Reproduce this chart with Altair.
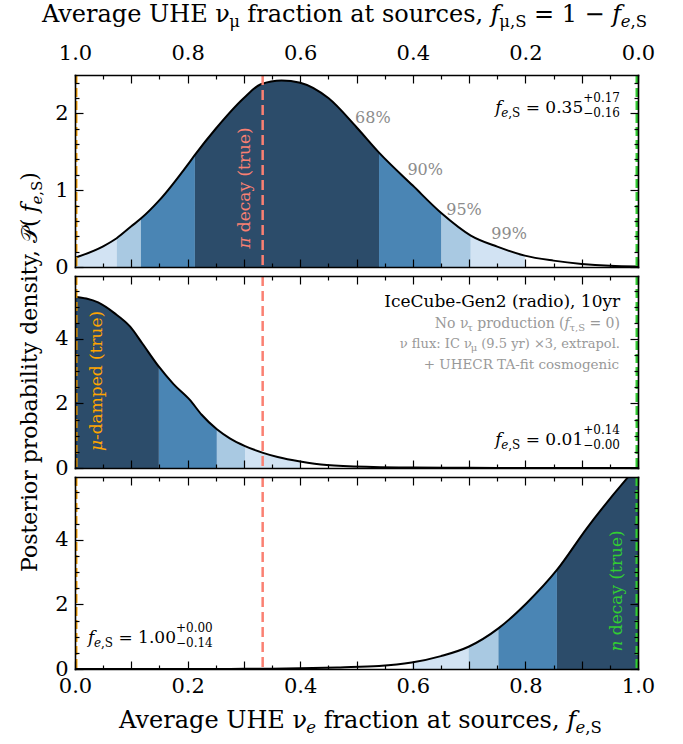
import altair as alt
import pandas as pd

FONT = "DejaVu Serif"
W, H = 563, 192
GAP = 9

# ---------------- data ----------------
# Top panel (true: pion decay)
x_top = [0.0, 0.05, 0.074, 0.1, 0.117, 0.15, 0.2, 0.213, 0.25, 0.3, 0.33, 0.367, 0.4, 0.45,
         0.5, 0.54, 0.6, 0.651, 0.703, 0.75, 0.799, 0.85, 0.9, 0.95, 1.0]
p_top = [0.12, 0.27, 0.375, 0.53, 0.63, 0.87, 1.33, 1.46, 1.80, 2.20, 2.38, 2.43, 2.40, 2.20,
         1.82, 1.49, 1.06, 0.70, 0.41, 0.265, 0.148, 0.083, 0.04, 0.015, 0.005]
edges_top = [0.0, 0.074, 0.117, 0.213, 0.54, 0.651, 0.703, 0.799]
bands_top = ["99%", "95%", "90%", "68%", "90%", "95%", "99%"]

# Middle panel (true: muon-damped)
x_mid = [0.0, 0.02, 0.041, 0.07, 0.098, 0.12, 0.149, 0.175, 0.204, 0.225, 0.252, 0.275, 0.302,
         0.334, 0.36, 0.40, 0.447, 0.53, 0.6, 0.7, 0.8, 0.9, 1.0]
p_mid = [5.31, 5.25, 5.13, 4.80, 4.38, 3.85, 3.14, 2.60, 2.11, 1.65, 1.20, 0.92, 0.68,
         0.47, 0.34, 0.20, 0.09, 0.03, 0.012, 0.004, 0.001, 0.0, 0.0]
edges_mid = [0.0, 0.149, 0.252, 0.302, 0.40]
bands_mid = ["68%", "90%", "95%", "99%"]

# Bottom panel (true: neutron decay)
x_bot = [0.0, 0.1, 0.2, 0.25, 0.3, 0.35, 0.4, 0.471, 0.54, 0.598, 0.65, 0.699, 0.752, 0.802,
         0.856, 0.909, 0.983, 1.0]
p_bot = [0.0, 0.0, 0.0, 0.002, 0.005, 0.01, 0.02, 0.05, 0.09, 0.20, 0.40, 0.69, 1.26, 2.04,
         3.07, 4.36, 5.96, 6.3]
edges_bot = [0.598, 0.699, 0.752, 0.856, 1.0]
bands_bot = ["99%", "95%", "90%", "68%"]

band_names = ["68%", "90%", "95%", "99%"]
band_colors = ["#2c4c6a", "#4a85b4", "#a9c9e2", "#d2e3f3"]

x_major = [round(0.1 * i, 2) for i in range(11)]
x_minor = [round(0.05 + 0.1 * i, 2) for i in range(10)]
x_labels = [0.0, 0.2, 0.4, 0.6, 0.8, 1.0]

y1_max, y1_major, y1_minor, y1_labels = 2.5, [0, 1, 2], [0.2, 0.4, 0.6, 0.8, 1.2, 1.4, 1.6, 1.8, 2.2, 2.4], [0, 1, 2]
y2_max, y2_major, y2_minor, y2_labels = 5.95, [0, 2, 4], [0.5, 1, 1.5, 2.5, 3, 3.5, 4.5, 5, 5.5], [0, 2, 4]

truths = [0.0, 1 / 3, 1.0]
truth_colors = ["#ffa500", "#fa8072", "#32cd32"]

XS = alt.Scale(domain=[0, 1], nice=False, zero=False, padding=0)

# ---------------- text width helper (DejaVu Serif metrics, em units) ----------------
WID = {' ': .318, '!': .4, '(': .39, ')': .39, '+': .838, ',': .318, '-': .338, '.': .318, '/': .337,
       ':': .337, '=': .838, '%': .95, '−': .838, '×': .838, 'ν': .56, 'μ': .64, 'τ': .55, 'π': .64,
       '𝒫': .8}
for c in "0123456789":
    WID[c] = .636
WID.update(dict(zip("ABCDEFGHIJKLMNOPQRSTUVWXYZ",
                    [.722, .735, .72, .802, .732, .691, .8, .872, .425, .421, .761, .687, 1.024,
                     .838, .82, .701, .82, .764, .685, .71, .815, .722, 1.04, .73, .702, .686])))
WID.update(dict(zip("abcdefghijklmnopqrstuvwxyz",
                    [.596, .64, .56, .64, .592, .37, .64, .644, .32, .31, .606, .32, .948, .644, .602,
                     .64, .64, .478, .513, .402, .644, .565, .856, .564, .565, .523])))
WID_IT = {'f': .35, 'e': .592, 'n': .644, 'μ': .64, 'τ': .55, 'π': .64}


def tw(s, size, italic=False):
    return size * sum((WID_IT.get(c) if italic and c in WID_IT else WID.get(c, .6)) for c in s)


def rich(pieces, align="left", color="black", angle=0, x=None, y=None, ys=None, px=None, py=None):
    cur, ext, placed = 0.0, 0.0, []
    for pc in pieces:
        t, s = pc[0], pc[1]
        it = pc[2] if len(pc) > 2 else False
        dy = pc[3] if len(pc) > 3 else 0
        adv = pc[4] if len(pc) > 4 else True
        lead = len(t) - len(t.lstrip(" "))
        placed.append((t.strip(" "), s, it, dy, cur + tw(" " * lead, s)))
        w = tw(t, s, it)
        ext = max(ext, cur + w)
        if adv:
            cur += w
    start = {"left": 0.0, "center": -ext / 2, "right": -ext}[align]
    out = []
    for t, s, it, dy, off in placed:
        df = pd.DataFrame({"t": [t]})
        if px is None:
            df["x"] = [x]
            df["y"] = [y]
            enc = dict(x=alt.X("x:Q", scale=XS, axis=None), y=alt.Y("y:Q", scale=ys, axis=None))
        else:
            enc = dict(x=alt.value(px), y=alt.value(py))
        mk = alt.Chart(df).mark_text(align="left", baseline="alphabetic", dx=start + off, dy=dy,
                                     fontSize=s, fontStyle="italic" if it else "normal", font=FONT,
                                     color=color, angle=angle)
        out.append(mk.encode(text="t:N", **enc))
    return out


def band_df(xs, ps, edges, bands):
    rows = []
    for i, (lo, hi) in enumerate(zip(edges[:-1], edges[1:])):
        for xv, pv in zip(xs, ps):
            if lo - 1e-9 <= xv <= hi + 1e-9:
                rows.append({"x": xv, "p": pv, "band": bands[i], "seg": i})
    return pd.DataFrame(rows)


def axis_layers(ys, ymaj, ymin, ylab, xlab_orient=None):
    df = pd.DataFrame({"x": [0.0, 1.0], "y": [0.0, 0.0]})
    common = dict(grid=False, labels=False, title=None, tickColor="black", tickWidth=1.2,
                  domainColor="black", domainWidth=1.6, domainCap="square", zindex=1, ticks=True)

    def mk(xa, ya):
        return alt.Chart(df).mark_point(opacity=0).encode(
            x=alt.X("x:Q", scale=XS, axis=xa), y=alt.Y("y:Q", scale=ys, axis=ya))

    out = [
        mk(alt.Axis(orient="top", offset=-H, values=x_major, tickSize=8, domain=True, **common),
           alt.Axis(orient="right", offset=-W, values=ymaj, tickSize=8, domain=True, **common)),
        mk(alt.Axis(orient="top", offset=-H, values=x_minor, tickSize=4, domain=False, **common),
           alt.Axis(orient="right", offset=-W, values=ymin, tickSize=4, domain=False, **common)),
        mk(alt.Axis(orient="bottom", offset=-H, values=x_major, tickSize=8, domain=True, **common),
           alt.Axis(orient="left", offset=-W, values=ymaj, tickSize=8, domain=True, **common)),
        mk(alt.Axis(orient="bottom", offset=-H, values=x_minor, tickSize=4, domain=False, **common),
           alt.Axis(orient="left", offset=-W, values=ymin, tickSize=4, domain=False, **common)),
    ]
    lab = dict(grid=False, ticks=False, domain=False, title=None, labelFont=FONT, labelFontSize=21,
               labelColor="black", labelOverlap=False, labelFlush=False, zindex=1)
    ya = alt.Axis(orient="left", values=ylab, format="d", labelPadding=7, **lab)
    if xlab_orient == "top":
        xa = alt.Axis(orient="top", values=x_labels, labelExpr="format(1 - datum.value, '.1f')",
                      labelPadding=12, **lab)
    elif xlab_orient == "bottom":
        xa = alt.Axis(orient="bottom", values=x_labels, format=".1f", labelPadding=6, **lab)
    else:
        xa = None
    out.append(mk(xa, ya))
    return out


def panel(xs, ps, edges, bands, ymax, ymaj, ymin, ylab, extra, xlab_orient=None):
    ys = alt.Scale(domain=[0, ymax], nice=False, zero=True)
    bdf = band_df(xs, ps, edges, bands)
    area = alt.Chart(bdf).mark_area(clip=True, opacity=1, interpolate="monotone").encode(
        x=alt.X("x:Q", scale=XS, axis=None),
        y=alt.Y("p:Q", scale=ys, axis=None, stack=None),
        color=alt.Color("band:N", scale=alt.Scale(domain=band_names, range=band_colors), legend=None),
        detail="seg:N")
    line = alt.Chart(pd.DataFrame({"x": xs, "p": ps})).mark_line(
        clip=True, color="black", strokeWidth=2, interpolate="monotone").encode(
        x=alt.X("x:Q", scale=XS, axis=None), y=alt.Y("p:Q", scale=ys, axis=None))
    rules = []
    for xv, col in zip(truths, truth_colors):
        edge = xv in (0.0, 1.0)
        rules.append(alt.Chart(pd.DataFrame({"x": [xv]})).mark_rule(
            color=col, strokeDash=[9, 4] if edge else [10, 5], strokeWidth=5 if edge else 2.5,
            clip=True).encode(x=alt.X("x:Q", scale=XS, axis=None)))
    layers = [area, line] + rules + extra(ys) + axis_layers(ys, ymaj, ymin, ylab, xlab_orient)
    return alt.layer(*layers).properties(width=W, height=H).resolve_axis(
        x="independent", y="independent")


def fe(val, up, dn):
    return [("f", 17, True), ("e", 12, True, 4), (",S", 12, False, 4), (" = " + val, 17),
            ("+" + up, 12, False, -11, False), ("−" + dn, 12, False, 4)]


def extra_top(ys):
    L = []
    L += rich(fe("0.35", "0.17", "0.16"), align="right", x=0.968, y=2.0, ys=ys)
    for t, xv, yv in [("68%", 0.529, 1.88), ("90%", 0.622, 1.20), ("95%", 0.691, 0.68), ("99%", 0.771, 0.36)]:
        L += rich([(t, 16)], align="center", color="#8c8c8c", x=xv, y=yv, ys=ys)
    L += rich([("π", 17, True), (" decay (true)", 17)], align="center", color="#fa8072", angle=270,
              x=0.311, y=1.03, ys=ys)
    L += rich([("Average UHE ν", 24), ("μ", 16.5, False, 5), (" fraction at sources, ", 24), ("f", 24, True),
               ("μ,S", 16.5, False, 5), (" = 1 − ", 24), ("f", 24, True), ("e", 16.5, True, 5),
               (",S", 16.5, False, 5)],
              align="center", px=W / 2 - 12, py=-53)
    return L


def extra_mid(ys):
    L = []
    L += rich([("IceCube-Gen2 (radio), 10yr", 17)], align="right", x=0.968, y=5.0, ys=ys)
    g = "#999999"
    L += rich([("No ν", 14), ("τ", 10, False, 3), (" production (", 14), ("f", 14, True),
               ("τ,S", 10, False, 3), (" = 0)", 14)], align="right", color=g, x=0.968, y=4.35, ys=ys)
    L += rich([("ν flux: IC ν", 13), ("μ", 10, False, 3), (" (9.5 yr) ×3, extrapol.", 13)],
              align="right", color=g, x=0.968, y=3.72, ys=ys)
    L += rich([("+ UHECR TA-fit cosmogenic", 13.5)], align="right", color=g, x=0.968, y=3.08, ys=ys)
    L += rich(fe("0.01", "0.14", "0.00"), align="right", x=0.968, y=0.71, ys=ys)
    L += rich([("μ", 17, True), ("-damped (true)", 17)], align="center", color="#ffa500", angle=270,
              x=0.048, y=2.7, ys=ys)
    L += rich([("Posterior probability density, 𝒫(", 22), ("f", 22, True), ("e", 15, True, 5),
               (",S", 15, False, 5), (")", 22)], align="center", angle=270, px=-38, py=H / 2)
    return L


def extra_bot(ys):
    L = []
    L += rich(fe("1.00", "0.00", "0.14"), align="left", x=0.023, y=0.8, ys=ys)
    L += rich([("n", 17, True), (" decay (true)", 17)], align="center", color="#32cd32", angle=270,
              x=0.972, y=2.42, ys=ys)
    L += rich([("Average UHE ν", 24), ("e", 16.5, True, 5), (" fraction at sources, ", 24), ("f", 24, True),
               ("e", 16.5, True, 5), (",S", 16.5, False, 5)], align="center", px=W / 2 + 4, py=H + 59)
    return L


top = panel(x_top, p_top, edges_top, bands_top, y1_max, y1_major, y1_minor, y1_labels, extra_top, "top")
mid = panel(x_mid, p_mid, edges_mid, bands_mid, y2_max, y2_major, y2_minor, y2_labels, extra_mid)
bot = panel(x_bot, p_bot, edges_bot, bands_bot, y2_max, y2_major, y2_minor, y2_labels, extra_bot, "bottom")

chart = alt.vconcat(top, mid, bot, spacing=GAP, bounds="flush").configure_view(stroke=None).properties(
    padding={"left": 18, "top": 3, "right": 5, "bottom": 5})

chart.save("out.html", embed_options={"renderer": "svg", "actions": False})
